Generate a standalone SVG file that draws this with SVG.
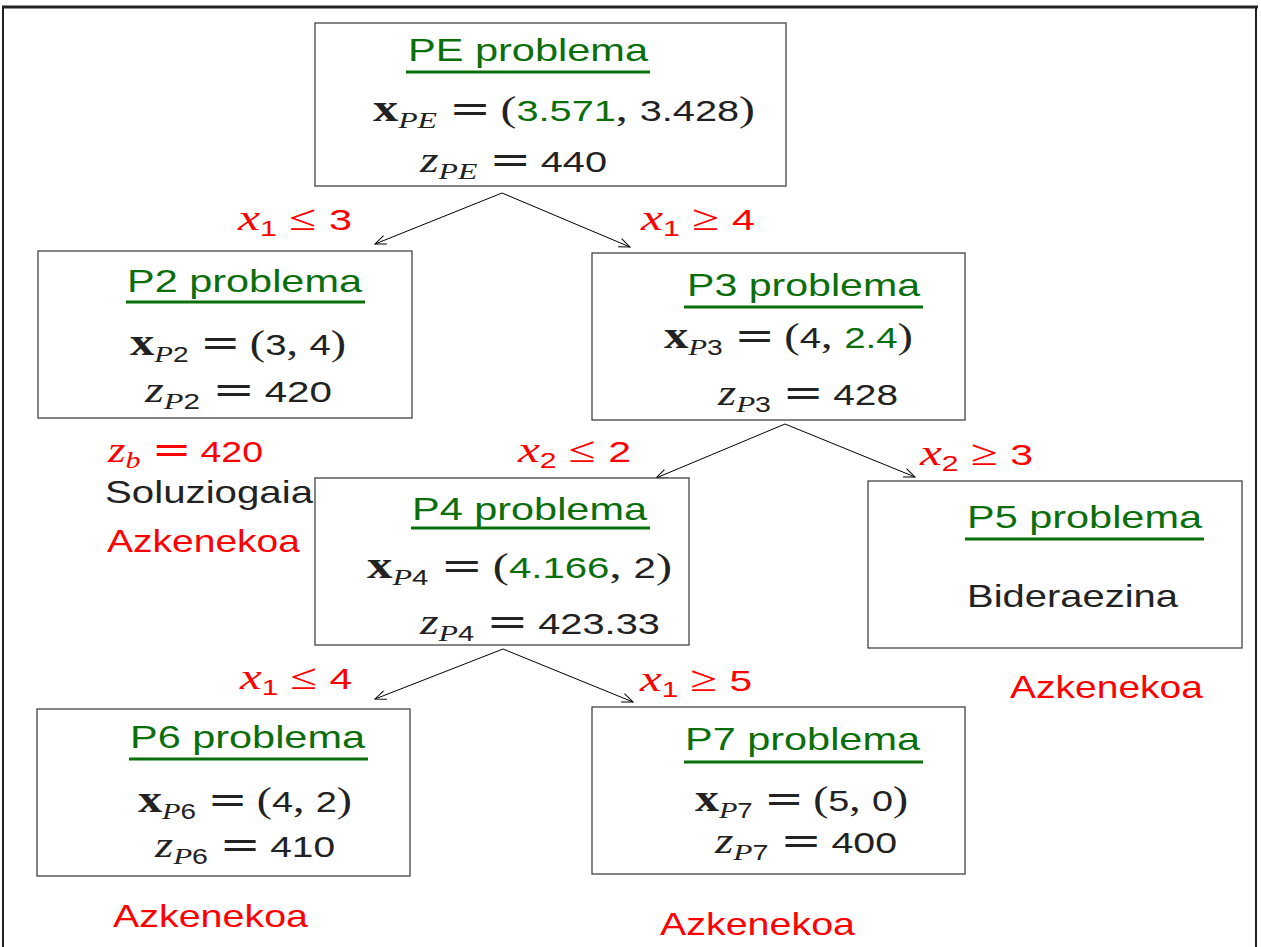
<svg xmlns="http://www.w3.org/2000/svg" width="1261" height="947" viewBox="0 0 1261 947">
<style>
text{font-family:"Liberation Sans",Arial,sans-serif;fill:#222}
.box{fill:#fff;stroke:#444;stroke-width:1.3}
.ul{stroke:#0a6e0a;stroke-width:3}
.ttl{font-size:32px;fill:#0a6e0a}
.txt{font-size:32px}
.red{fill:#f00}
.red tspan{fill:#f00}
.bx{font-family:"Liberation Serif","Times New Roman",serif;font-weight:bold;font-size:38px}
.it{font-family:"Liberation Serif","Times New Roman",serif;font-style:italic;font-size:36px}
.sub{font-family:"Liberation Serif","Times New Roman",serif;font-style:italic;font-size:24px}
.subn{font-family:"Liberation Sans",Arial,sans-serif;font-size:22px}
.op{font-family:"Liberation Serif","Times New Roman",serif;font-size:36px}
.eq{font-family:"DejaVu Sans",sans-serif;font-size:38px}
.num{font-family:"Liberation Sans",Arial,sans-serif;font-size:30px}
.g{fill:#0a6e0a}
.conn line{stroke:#000;stroke-width:1;marker-end:url(#arr)}
</style>
<defs>
<marker id="arr" markerWidth="14" markerHeight="12" refX="12" refY="6" orient="auto" markerUnits="userSpaceOnUse">
<path d="M1,1.5 L12,6 L1,10.5" fill="none" stroke="#000" stroke-width="1"/>
</marker>
</defs>
<rect width="1261" height="947" fill="#fff"/>
<g id="frame" stroke="#222" fill="none">
<line x1="2" y1="7" x2="1258" y2="7" stroke-width="3"/>
<line x1="3" y1="6" x2="3" y2="947" stroke-width="2"/>
<line x1="1256" y1="6" x2="1256" y2="947" stroke-width="2"/>
</g>
<g id="connectors" class="conn">
<line x1="502" y1="193" x2="375" y2="244"/>
<line x1="502" y1="193" x2="630" y2="247"/>
<line x1="785" y1="424" x2="656" y2="478"/>
<line x1="785" y1="424" x2="915" y2="477"/>
<line x1="503" y1="649" x2="375" y2="699"/>
<line x1="503" y1="649" x2="633" y2="702"/>
</g>
<g id="node-PE">
<rect class="box" x="315" y="23" width="471" height="163"/>
<text class="ttl" x="408" y="61" textLength="240" lengthAdjust="spacingAndGlyphs">PE problema</text>
<line class="ul" x1="406" y1="72" x2="650" y2="72"/>
<text x="373" y="121" textLength="382" lengthAdjust="spacingAndGlyphs"><tspan class="bx">x</tspan><tspan class="sub" dy="7">PE</tspan><tspan class="op" dy="-7"> </tspan><tspan class="eq">=</tspan><tspan class="op">&#8201;(</tspan><tspan class="num g">3.571</tspan><tspan class="op">, </tspan><tspan class="num">3.428</tspan><tspan class="op">)</tspan></text>
<text x="420" y="172" textLength="187" lengthAdjust="spacingAndGlyphs"><tspan class="it">z</tspan><tspan class="sub" dy="7">PE</tspan><tspan class="op" dy="-7"> </tspan><tspan class="eq">=</tspan><tspan class="op">&#8201;</tspan><tspan class="num">440</tspan></text>
</g>
<g id="node-P2">
<rect class="box" x="38" y="251" width="374" height="167"/>
<text class="ttl" x="127" y="292" textLength="235" lengthAdjust="spacingAndGlyphs">P2 problema</text>
<line class="ul" x1="126" y1="302" x2="365" y2="302"/>
<text x="130" y="355" textLength="216" lengthAdjust="spacingAndGlyphs"><tspan class="bx">x</tspan><tspan class="sub" dy="7">P</tspan><tspan class="subn">2</tspan><tspan class="op" dy="-7"> </tspan><tspan class="eq">=</tspan><tspan class="op">&#8201;(</tspan><tspan class="num">3</tspan><tspan class="op">, </tspan><tspan class="num">4</tspan><tspan class="op">)</tspan></text>
<text x="145" y="402" textLength="187" lengthAdjust="spacingAndGlyphs"><tspan class="it">z</tspan><tspan class="sub" dy="7">P</tspan><tspan class="subn">2</tspan><tspan class="op" dy="-7"> </tspan><tspan class="eq">=</tspan><tspan class="op">&#8201;</tspan><tspan class="num">420</tspan></text>
</g>
<g id="node-P3">
<rect class="box" x="592" y="253" width="373" height="167"/>
<text class="ttl" x="687" y="296" textLength="233" lengthAdjust="spacingAndGlyphs">P3 problema</text>
<line class="ul" x1="684" y1="307" x2="923" y2="307"/>
<text x="664" y="348" textLength="249" lengthAdjust="spacingAndGlyphs"><tspan class="bx">x</tspan><tspan class="sub" dy="7">P</tspan><tspan class="subn">3</tspan><tspan class="op" dy="-7"> </tspan><tspan class="eq">=</tspan><tspan class="op">&#8201;(</tspan><tspan class="num">4</tspan><tspan class="op">, </tspan><tspan class="num g">2.4</tspan><tspan class="op">)</tspan></text>
<text x="718" y="405" textLength="180" lengthAdjust="spacingAndGlyphs"><tspan class="it">z</tspan><tspan class="sub" dy="7">P</tspan><tspan class="subn">3</tspan><tspan class="op" dy="-7"> </tspan><tspan class="eq">=</tspan><tspan class="op">&#8201;</tspan><tspan class="num">428</tspan></text>
</g>
<g id="node-P4">
<rect class="box" x="315" y="478" width="374" height="167"/>
<text class="ttl" x="412" y="520" textLength="235" lengthAdjust="spacingAndGlyphs">P4 problema</text>
<line class="ul" x1="411" y1="528" x2="650" y2="528"/>
<text x="367" y="578" textLength="305" lengthAdjust="spacingAndGlyphs"><tspan class="bx">x</tspan><tspan class="sub" dy="7">P</tspan><tspan class="subn">4</tspan><tspan class="op" dy="-7"> </tspan><tspan class="eq">=</tspan><tspan class="op">&#8201;(</tspan><tspan class="num g">4.166</tspan><tspan class="op">, </tspan><tspan class="num">2</tspan><tspan class="op">)</tspan></text>
<text x="420" y="634" textLength="240" lengthAdjust="spacingAndGlyphs"><tspan class="it">z</tspan><tspan class="sub" dy="7">P</tspan><tspan class="subn">4</tspan><tspan class="op" dy="-7"> </tspan><tspan class="eq">=</tspan><tspan class="op">&#8201;</tspan><tspan class="num">423.33</tspan></text>
</g>
<g id="node-P5">
<rect class="box" x="868" y="481" width="374" height="167"/>
<text class="ttl" x="967" y="528" textLength="235" lengthAdjust="spacingAndGlyphs">P5 problema</text>
<line class="ul" x1="965" y1="539" x2="1204" y2="539"/>
<text class="txt" x="967" y="607" textLength="211" lengthAdjust="spacingAndGlyphs">Bideraezina</text>
</g>
<g id="node-P6">
<rect class="box" x="37" y="709" width="373" height="167"/>
<text class="ttl" x="130" y="748" textLength="235" lengthAdjust="spacingAndGlyphs">P6 problema</text>
<line class="ul" x1="129" y1="759" x2="368" y2="759"/>
<text x="138" y="812" textLength="214" lengthAdjust="spacingAndGlyphs"><tspan class="bx">x</tspan><tspan class="sub" dy="7">P</tspan><tspan class="subn">6</tspan><tspan class="op" dy="-7"> </tspan><tspan class="eq">=</tspan><tspan class="op">&#8201;(</tspan><tspan class="num">4</tspan><tspan class="op">, </tspan><tspan class="num">2</tspan><tspan class="op">)</tspan></text>
<text x="155" y="857" textLength="180" lengthAdjust="spacingAndGlyphs"><tspan class="it">z</tspan><tspan class="sub" dy="7">P</tspan><tspan class="subn">6</tspan><tspan class="op" dy="-7"> </tspan><tspan class="eq">=</tspan><tspan class="op">&#8201;</tspan><tspan class="num">410</tspan></text>
</g>
<g id="node-P7">
<rect class="box" x="592" y="707" width="373" height="167"/>
<text class="ttl" x="685" y="750" textLength="235" lengthAdjust="spacingAndGlyphs">P7 problema</text>
<line class="ul" x1="684" y1="762" x2="923" y2="762"/>
<text x="695" y="811" textLength="213" lengthAdjust="spacingAndGlyphs"><tspan class="bx">x</tspan><tspan class="sub" dy="7">P</tspan><tspan class="subn">7</tspan><tspan class="op" dy="-7"> </tspan><tspan class="eq">=</tspan><tspan class="op">&#8201;(</tspan><tspan class="num">5</tspan><tspan class="op">, </tspan><tspan class="num">0</tspan><tspan class="op">)</tspan></text>
<text x="715" y="853" textLength="182" lengthAdjust="spacingAndGlyphs"><tspan class="it">z</tspan><tspan class="sub" dy="7">P</tspan><tspan class="subn">7</tspan><tspan class="op" dy="-7"> </tspan><tspan class="eq">=</tspan><tspan class="op">&#8201;</tspan><tspan class="num">400</tspan></text>
</g>
<g id="labels">
<text class="red" x="238" y="230" textLength="114" lengthAdjust="spacingAndGlyphs"><tspan class="it">x</tspan><tspan class="subn" dy="6">1</tspan><tspan class="op" dy="-6"> ≤ </tspan><tspan class="num">3</tspan></text>
<text class="red" x="641" y="230" textLength="114" lengthAdjust="spacingAndGlyphs"><tspan class="it">x</tspan><tspan class="subn" dy="6">1</tspan><tspan class="op" dy="-6"> ≥ </tspan><tspan class="num">4</tspan></text>
<text class="red" x="518" y="462" textLength="113" lengthAdjust="spacingAndGlyphs"><tspan class="it">x</tspan><tspan class="subn" dy="6">2</tspan><tspan class="op" dy="-6"> ≤ </tspan><tspan class="num">2</tspan></text>
<text class="red" x="920" y="465" textLength="113" lengthAdjust="spacingAndGlyphs"><tspan class="it">x</tspan><tspan class="subn" dy="6">2</tspan><tspan class="op" dy="-6"> ≥ </tspan><tspan class="num">3</tspan></text>
<text class="red" x="240" y="689" textLength="112" lengthAdjust="spacingAndGlyphs"><tspan class="it">x</tspan><tspan class="subn" dy="6">1</tspan><tspan class="op" dy="-6"> ≤ </tspan><tspan class="num">4</tspan></text>
<text class="red" x="640" y="691" textLength="112" lengthAdjust="spacingAndGlyphs"><tspan class="it">x</tspan><tspan class="subn" dy="6">1</tspan><tspan class="op" dy="-6"> ≥ </tspan><tspan class="num">5</tspan></text>
<text class="red" x="108" y="462" textLength="155" lengthAdjust="spacingAndGlyphs"><tspan class="it">z</tspan><tspan class="sub" dy="6">b</tspan><tspan class="op" dy="-6"> </tspan><tspan class="eq">=</tspan><tspan class="op">&#8201;</tspan><tspan class="num">420</tspan></text>
<text class="txt" x="105" y="503" textLength="208" lengthAdjust="spacingAndGlyphs">Soluziogaia</text>
<text class="txt red" x="107" y="552" textLength="193" lengthAdjust="spacingAndGlyphs">Azkenekoa</text>
<text class="txt red" x="1010" y="698" textLength="193" lengthAdjust="spacingAndGlyphs">Azkenekoa</text>
<text class="txt red" x="113" y="927" textLength="195" lengthAdjust="spacingAndGlyphs">Azkenekoa</text>
<text class="txt red" x="660" y="935" textLength="195" lengthAdjust="spacingAndGlyphs">Azkenekoa</text>
</g>
</svg>
